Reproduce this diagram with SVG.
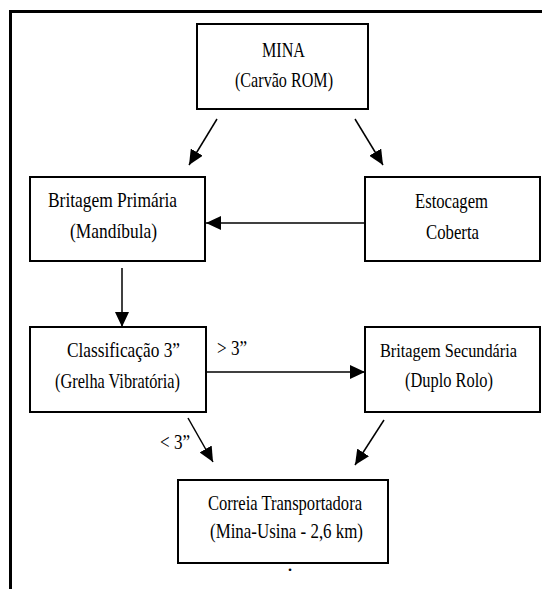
<svg xmlns="http://www.w3.org/2000/svg" width="542" height="589" viewBox="0 0 542 589">
<style>
.box{fill:#fff;stroke:#000;stroke-width:2}
.t{font-family:"Liberation Serif","Times New Roman",serif;font-size:22px;fill:#000;text-anchor:middle}
.c{stroke:#000;stroke-width:1.5;fill:none;marker-end:url(#ah)}
</style>
<defs>
<marker id="ah" markerUnits="userSpaceOnUse" markerWidth="16" markerHeight="14" refX="15" refY="7" orient="auto">
<path d="M0,0 L15,7 L0,14 Z" fill="#000"/>
</marker>
</defs>
<rect width="542" height="589" fill="#fff"/>
<path d="M10.5,589 V11.5 H542" fill="none" stroke="#000" stroke-width="3"/>
<g id="mina">
<rect class="box" x="197" y="24" width="171" height="85"/>
<text class="t" x="283.5" y="57" textLength="43" lengthAdjust="spacingAndGlyphs">MINA</text>
<text class="t" x="284" y="87" textLength="98" lengthAdjust="spacingAndGlyphs">(Carvão ROM)</text>
</g>
<g id="britagem-primaria">
<rect class="box" x="30" y="177" width="175" height="84"/>
<text class="t" x="112.5" y="207" textLength="129" lengthAdjust="spacingAndGlyphs">Britagem Primária</text>
<text class="t" x="113.5" y="238" textLength="87" lengthAdjust="spacingAndGlyphs">(Mandíbula)</text>
</g>
<g id="estocagem">
<rect class="box" x="365" y="177" width="175" height="84"/>
<text class="t" x="451.5" y="208" textLength="73" lengthAdjust="spacingAndGlyphs">Estocagem</text>
<text class="t" x="452.5" y="239" textLength="53" lengthAdjust="spacingAndGlyphs">Coberta</text>
</g>
<g id="classificacao">
<rect class="box" x="30" y="327" width="176" height="85"/>
<text class="t" x="123.5" y="357" textLength="113" lengthAdjust="spacingAndGlyphs">Classificação 3”</text>
<text class="t" x="117.5" y="388" textLength="125" lengthAdjust="spacingAndGlyphs">(Grelha Vibratória)</text>
</g>
<g id="britagem-secundaria">
<rect class="box" x="365" y="327" width="175" height="85"/>
<text class="t" x="448.5" y="357" style="font-size:19px" textLength="137" lengthAdjust="spacingAndGlyphs">Britagem Secundária</text>
<text class="t" x="449" y="387" textLength="88" lengthAdjust="spacingAndGlyphs">(Duplo Rolo)</text>
</g>
<g id="correia">
<rect class="box" x="178" y="480" width="210" height="83"/>
<text class="t" x="285" y="510" textLength="154" lengthAdjust="spacingAndGlyphs">Correia Transportadora</text>
<text class="t" x="286.5" y="538" textLength="153" lengthAdjust="spacingAndGlyphs">(Mina-Usina - 2,6 km)</text>
<text class="t" x="290" y="571">.</text>
</g>
<g id="connectors">
<line class="c" x1="217" y1="119" x2="189" y2="165"/>
<line class="c" x1="355" y1="119" x2="383" y2="165"/>
<line class="c" x1="365" y1="223" x2="206" y2="223"/>
<line class="c" x1="122" y1="268" x2="122" y2="327"/>
<line class="c" x1="206" y1="372" x2="365" y2="372"/>
<line class="c" x1="188" y1="418" x2="213" y2="462"/>
<line class="c" x1="384" y1="420" x2="355" y2="465"/>
<text class="t" x="232" y="355" textLength="30" lengthAdjust="spacingAndGlyphs">&gt; 3”</text>
<text class="t" x="175" y="449" textLength="30" lengthAdjust="spacingAndGlyphs">&lt; 3”</text>
</g>
</svg>
